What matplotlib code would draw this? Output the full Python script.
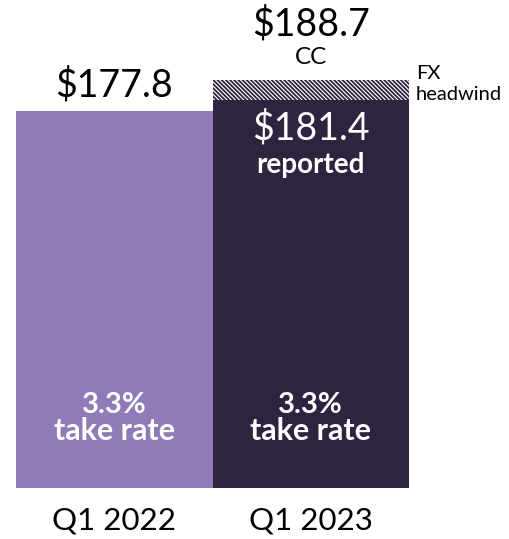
import matplotlib
matplotlib.use("Agg")
import matplotlib.pyplot as plt

categories = ["Q1 2022", "Q1 2023"]
reported = [177.8, 181.4]
constant_currency = [None, 188.7]
take_rate = ["3.3%", "3.3%"]

bar_colors = ["#8E7BB8", "#2E2440"]
plt.rcParams["font.family"] = ["Lato", "DejaVu Sans"]
plt.rcParams["hatch.linewidth"] = 1.3

fig = plt.figure(figsize=(5.09, 5.39), dpi=100)
ax = fig.add_axes([16/509, 51/539, 393/509, 488/539])
x = list(range(len(categories)))
ax.bar(x, reported, width=1.0, bottom=0, color=bar_colors, linewidth=0)
ax.set_xlim(-0.5, 1.5)
ax.set_ylim(43, 43 + 488/2.8)

# FX headwind hatch
cc = constant_currency[1]
ax.bar([1], [cc - reported[1]], bottom=[reported[1]], width=1.0,
       facecolor="white", edgecolor="#2E2440", hatch="\\" * 8, linewidth=0)

for s in ax.spines.values():
    s.set_visible(False)
ax.set_yticks([])
ax.set_xticks(x)
ax.set_xticklabels(categories, fontsize=22.5)
ax.tick_params(axis="x", length=0, pad=13)

def lab(xv, yv, dy, txt, size, color="black", weight="normal", dx=0, ha="center"):
    ax.annotate(txt, (xv, yv), xytext=(dx, dy), textcoords="offset pixels",
                ha=ha, va="center", fontsize=size, color=color,
                fontweight=weight, annotation_clip=False)

lab(0, reported[0], 25, f"${reported[0]:.1f}", 27)
lab(1, cc, 56, f"${cc:.1f}", 27)
lab(1, cc, 23, "CC", 17.5)
lab(1, reported[1], -28, f"${reported[1]:.1f}", 27, color="white")
lab(1, reported[1], -65, "reported", 20, color="white", weight="bold")
for i in x:
    lab(i, 43, 83, take_rate[i], 21, color="white", weight="bold")
    lab(i, 43, 57, "take rate", 22, color="white", weight="bold")

lab(1.5, cc, 7, "FX", 14.5, dx=7, ha="left")
lab(1.5, cc, -14, "headwind", 14.5, dx=7, ha="left")

fig.savefig("out.png", dpi=100)
